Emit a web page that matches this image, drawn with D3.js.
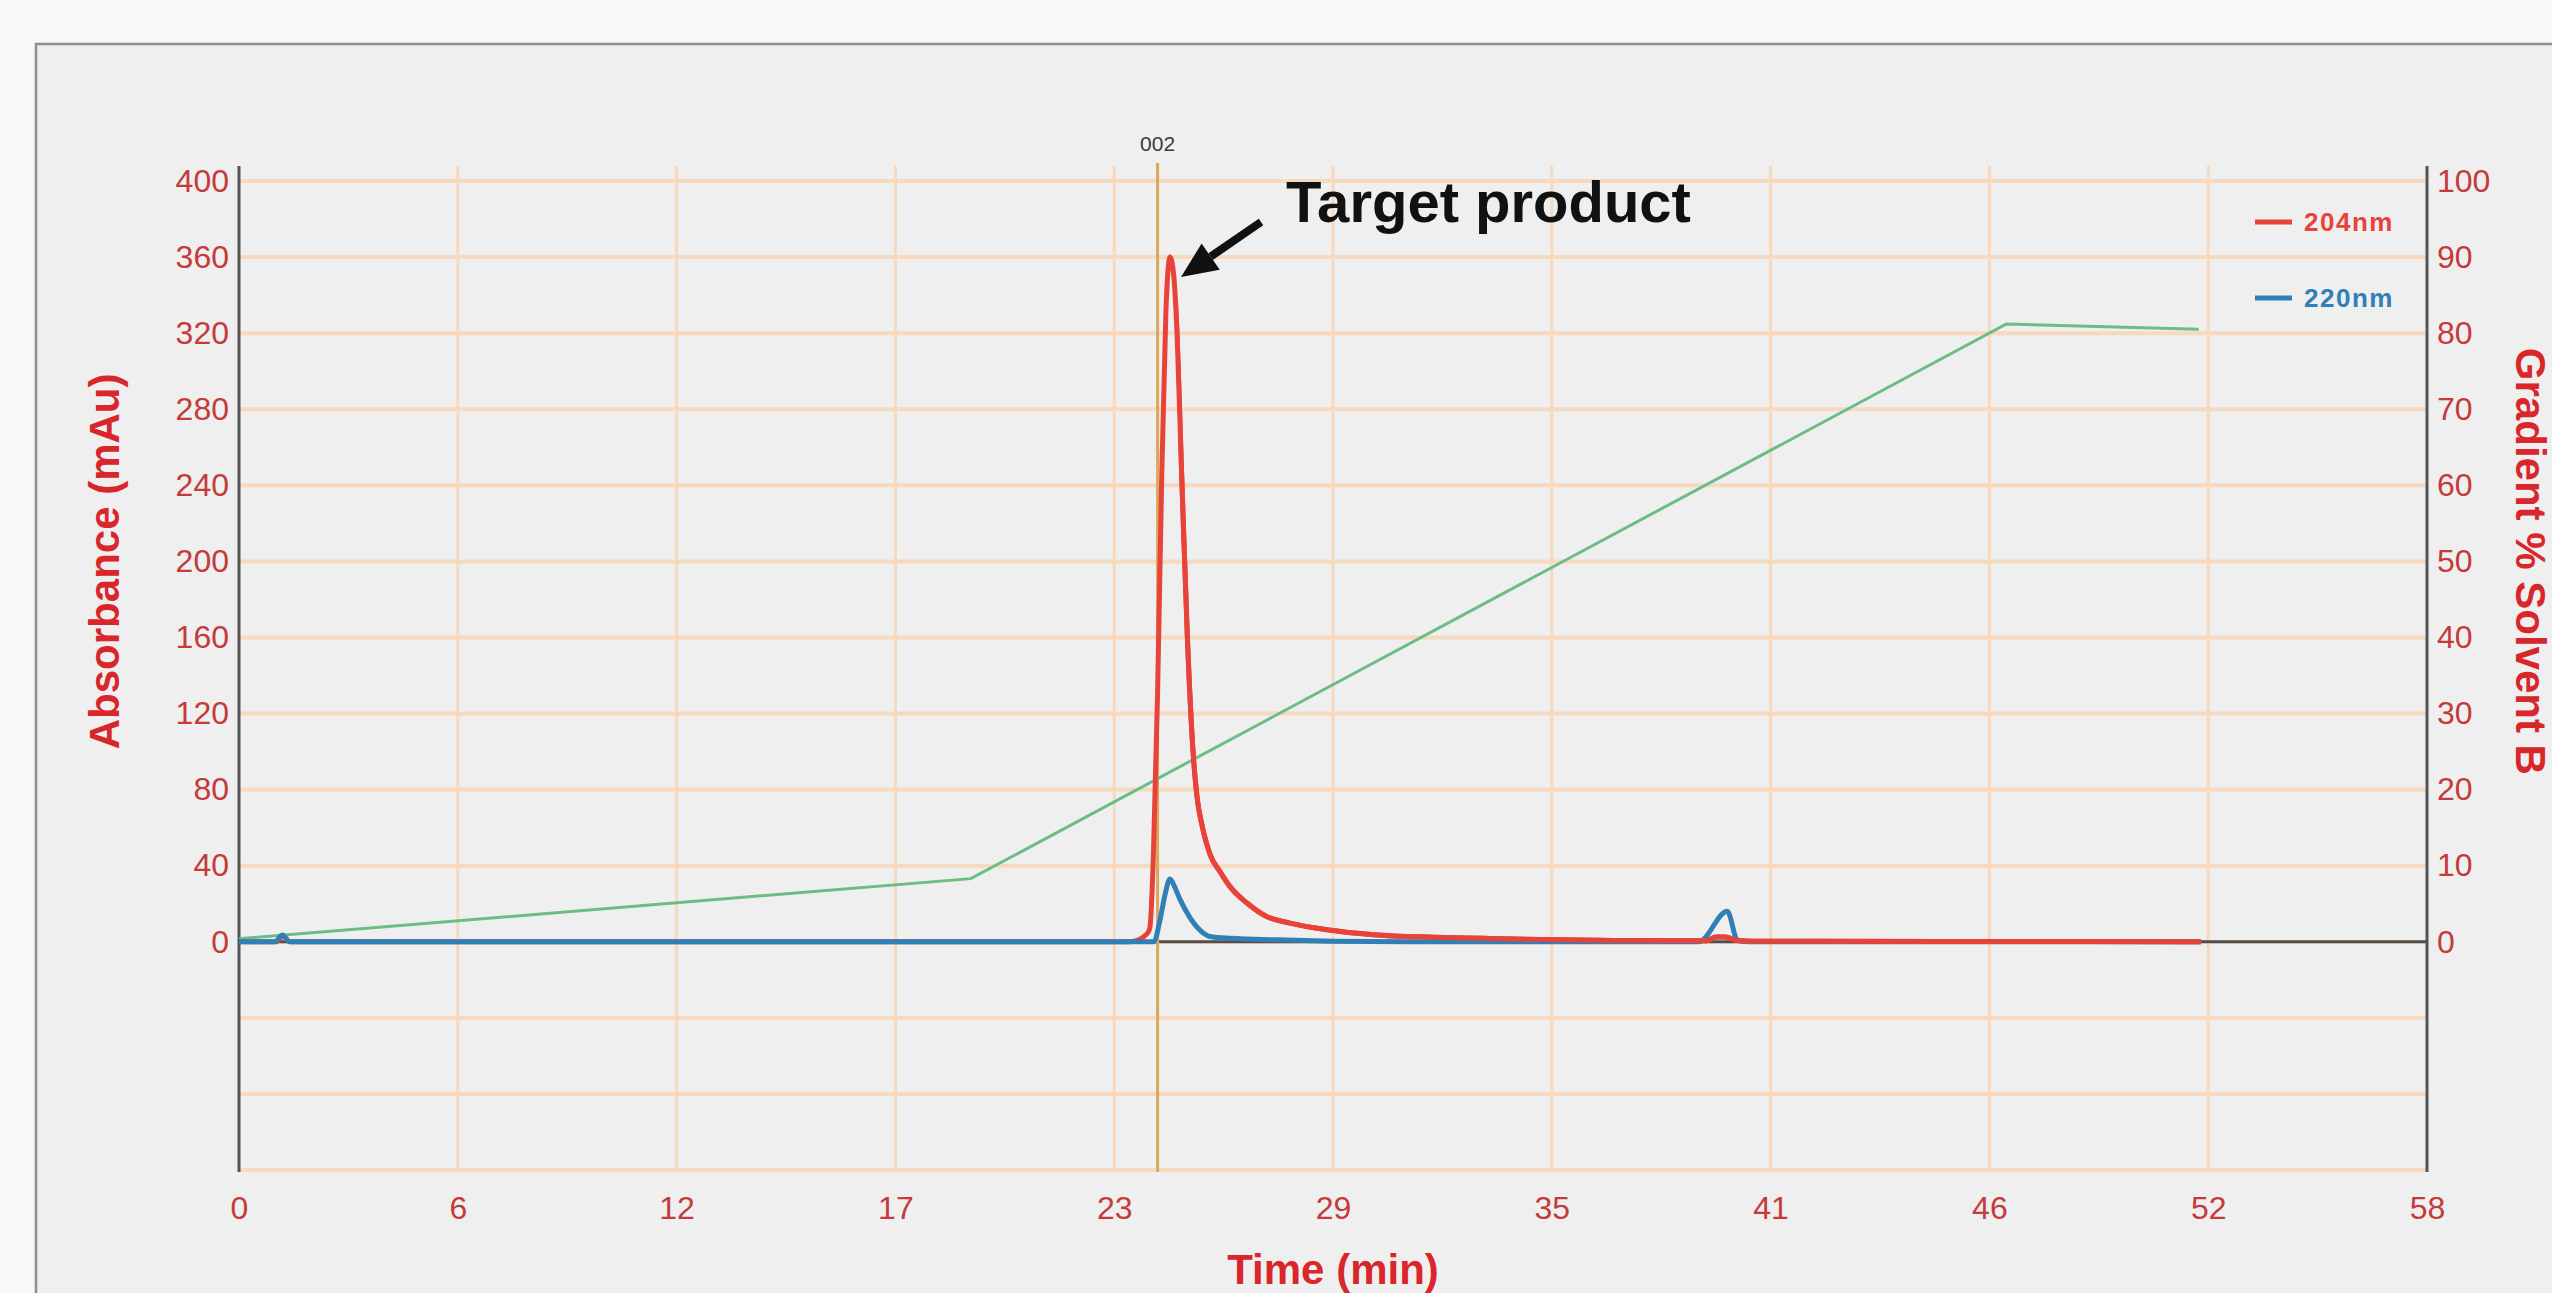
<!DOCTYPE html>
<html>
<head>
<meta charset="utf-8">
<script src="https://cdn.jsdelivr.net/npm/d3@7"></script>
<style>
  html, body { margin: 0; padding: 0; background: #f7f7f7; }
  svg { display: block; font-family: "Liberation Sans", Arial, Helvetica, sans-serif; }
</style>
</head>
<body>
<svg id="chart" width="2552" height="1293"></svg>
<script>
// ---- data ----
const timeTicks = [0, 5.8, 11.6, 17.4, 23.2, 29, 34.8, 40.6, 46.4, 52.2, 58];
const timeTickLabels = ["0", "6", "12", "17", "23", "29", "35", "41", "46", "52", "58"];
const absTicks = [0, 40, 80, 120, 160, 200, 240, 280, 320, 360, 400];
const gridAbs = [-120, -80, -40, 0, 40, 80, 120, 160, 200, 240, 280, 320, 360, 400];
const gradTicks = [0, 10, 20, 30, 40, 50, 60, 70, 80, 90, 100];

const time204 = [0, 1.0, 1.15, 1.35, 23.6, 23.85, 24.0, 24.1, 24.15, 24.24, 24.35, 24.46, 24.57, 24.68, 24.78, 24.84, 24.99, 25.14, 25.28, 25.41, 25.52, 25.74, 26.0, 26.27, 26.71, 27.24, 27.86, 28.84, 30.07, 31.66, 33.0, 34.5, 36.0, 38.0, 38.9, 39.15, 39.4, 39.75, 40.5, 45, 52];
const abs204 = [0, 0, 3, 0, 0, 1, 3, 5, 8, 46, 131, 245, 331, 360, 350, 331, 245, 160, 103, 74, 62, 46, 37, 29, 20.5, 13.3, 9.8, 6.3, 3.7, 2.4, 1.8, 1.2, 0.8, 0.5, 0.5, 2.5, 2.5, 0.6, 0.3, 0.2, 0];

const time220 = [0, 0.95, 1.15, 1.35, 24.25, 24.42, 24.55, 24.68, 24.8, 24.95, 25.2, 25.48, 25.74, 26.3, 27.5, 29.0, 31.0, 38.7, 39.45, 39.72, 40.0, 52];
const abs220 = [0, 0, 3.5, 0, 0, 12, 25, 33, 29, 22, 13, 6, 2.8, 1.8, 1.0, 0.3, 0, 0, 16, 1, 0, 0];

const timeGrad = [0, 19.4, 46.85, 51.95];
const gradB = [0.4, 8.3, 81.2, 80.5];

const markerTime = 24.35;
const markerLabel = "002";
const legendNames = ["204nm", "220nm"];

// ---- layout ----
const svg = d3.select("#chart");
const W = 2552, H = 1293;
const L = 239, R = 2427, TOP = 166, BOT = 1172;

const x = d3.scaleLinear().domain([0, 58]).range([L, R]);
const yL = d3.scaleLinear().domain([-120, 400]).range([1170, 181]);
const yR = d3.scaleLinear().domain([-30, 100]).range([1170, 181]);

const red = "#e8433a", blue = "#2f80b6", green = "#6cbd85";
const labelRed = "#c53a3a", titleRed = "#d8262b";
const gridCol = "#f6d9bf";

// background + frame
svg.append("rect").attr("x", 0).attr("y", 0).attr("width", W).attr("height", H).attr("fill", "#f8f8f8");
svg.append("rect").attr("x", 36).attr("y", 44).attr("width", W + 100).attr("height", H + 100)
  .attr("fill", "#efefef").attr("stroke", "#8e8e8e").attr("stroke-width", 2.5);

// grid
const grid = svg.append("g");
grid.selectAll("line.h").data(gridAbs).join("line")
  .attr("x1", L).attr("x2", R)
  .attr("y1", d => yL(d)).attr("y2", d => yL(d))
  .attr("stroke", gridCol).attr("stroke-width", 4);
grid.selectAll("line.v").data(timeTicks.slice(1, -1)).join("line")
  .attr("x1", d => x(d)).attr("x2", d => x(d))
  .attr("y1", TOP).attr("y2", BOT)
  .attr("stroke", gridCol).attr("stroke-width", 3);

// baseline at 0
svg.append("line").attr("x1", L).attr("x2", R).attr("y1", yL(0)).attr("y2", yL(0))
  .attr("stroke", "#4f4f4f").attr("stroke-width", 3);

// axis lines
svg.append("line").attr("x1", L).attr("x2", L).attr("y1", TOP).attr("y2", BOT)
  .attr("stroke", "#555").attr("stroke-width", 3);
svg.append("line").attr("x1", R).attr("x2", R).attr("y1", TOP).attr("y2", BOT)
  .attr("stroke", "#555").attr("stroke-width", 3);

// axes (labels)
function styleAxis(g) {
  g.select(".domain").remove();
  g.selectAll(".tick line").remove();
  g.selectAll("text").attr("font-size", 32).attr("fill", labelRed)
    .attr("font-family", "'Liberation Sans', Arial, sans-serif");
}
svg.append("g").attr("transform", `translate(${L},0)`)
  .call(d3.axisLeft(yL).tickValues(absTicks).tickSize(0).tickPadding(10))
  .call(styleAxis);
svg.append("g").attr("transform", `translate(${R},0)`)
  .call(d3.axisRight(yR).tickValues(gradTicks).tickSize(0).tickPadding(10))
  .call(styleAxis);
svg.append("g").attr("transform", `translate(0,${BOT})`)
  .call(d3.axisBottom(x).tickValues(timeTicks).tickFormat((d, i) => timeTickLabels[i]).tickSize(0).tickPadding(24))
  .call(styleAxis);

// axis titles
svg.append("text").attr("transform", `translate(104,${yL(200)}) rotate(-90)`)
  .attr("text-anchor", "middle").attr("dominant-baseline", "central")
  .attr("font-size", 42).attr("font-weight", "bold").attr("fill", titleRed)
  .text("Absorbance (mAu)");
svg.append("text").attr("transform", `translate(2530,${yL(200)}) rotate(90)`)
  .attr("text-anchor", "middle").attr("dominant-baseline", "central")
  .attr("font-size", 42).attr("font-weight", "bold").attr("fill", titleRed)
  .text("Gradient % Solvent B");
svg.append("text").attr("x", (L + R) / 2).attr("y", 1284)
  .attr("text-anchor", "middle")
  .attr("font-size", 42).attr("font-weight", "bold").attr("fill", titleRed)
  .text("Time (min)");

// fraction marker
svg.append("line").attr("x1", x(markerTime)).attr("x2", x(markerTime))
  .attr("y1", 163).attr("y2", BOT)
  .attr("stroke", "#d9a95a").attr("stroke-width", 3);
svg.append("text").attr("x", x(markerTime)).attr("y", 143)
  .attr("text-anchor", "middle").attr("dominant-baseline", "central")
  .attr("font-size", 21).attr("fill", "#3a3a3a").text(markerLabel);

// series
const gradData = timeGrad.map((t, i) => [t, gradB[i]]);
const d204 = time204.map((t, i) => [t, abs204[i]]);
const d220 = time220.map((t, i) => [t, abs220[i]]);

const lineGrad = d3.line().x(d => x(d[0])).y(d => yR(d[1]));
const lineAbs = d3.line().x(d => x(d[0])).y(d => yL(d[1])).curve(d3.curveMonotoneX);

svg.append("path").datum(gradData).attr("d", lineGrad)
  .attr("fill", "none").attr("stroke", green).attr("stroke-width", 3);

svg.append("path").datum(d204).attr("d", lineAbs)
  .attr("fill", "none").attr("stroke", red).attr("stroke-width", 5).attr("stroke-linejoin", "round");
svg.append("path").datum(d220).attr("d", lineAbs)
  .attr("fill", "none").attr("stroke", blue).attr("stroke-width", 5).attr("stroke-linejoin", "round");

// red tail drawn above blue after the main peak
svg.append("clipPath").attr("id", "tailClip").append("rect")
  .attr("x", x(24.9)).attr("y", 0).attr("width", x(58) - x(24.9)).attr("height", H);
svg.append("path").datum(d204).attr("d", lineAbs).attr("clip-path", "url(#tailClip)")
  .attr("fill", "none").attr("stroke", red).attr("stroke-width", 5).attr("stroke-linejoin", "round");

// legend
const legend = svg.append("g");
[[red, 222], [blue, 298]].forEach(([c, yy], i) => {
  legend.append("line").attr("x1", 2255).attr("x2", 2292).attr("y1", yy).attr("y2", yy)
    .attr("stroke", c).attr("stroke-width", 5);
  legend.append("text").attr("x", 2304).attr("y", yy).attr("dominant-baseline", "central")
    .attr("font-size", 26).attr("font-weight", "bold").attr("letter-spacing", 1.5)
    .attr("fill", c).text(legendNames[i]);
});

// annotation
svg.append("text").attr("x", 1286).attr("y", 222)
  .attr("font-size", 58).attr("font-weight", "bold").attr("fill", "#111")
  .text("Target product");
const tail = [1261, 222], tip = [x(24.68) + 11, yL(360) + 20];
const ang = Math.atan2(tip[1] - tail[1], tip[0] - tail[0]);
const headLen = 36, headW = 16;
const bx = tip[0] - headLen * Math.cos(ang), by = tip[1] - headLen * Math.sin(ang);
svg.append("line").attr("x1", tail[0]).attr("y1", tail[1]).attr("x2", bx).attr("y2", by)
  .attr("stroke", "#111").attr("stroke-width", 8);
svg.append("path").attr("fill", "#111").attr("d",
  `M${tip[0]},${tip[1]} L${bx + headW * Math.sin(ang)},${by - headW * Math.cos(ang)} L${bx - headW * Math.sin(ang)},${by + headW * Math.cos(ang)} Z`);
</script>
</body>
</html>
